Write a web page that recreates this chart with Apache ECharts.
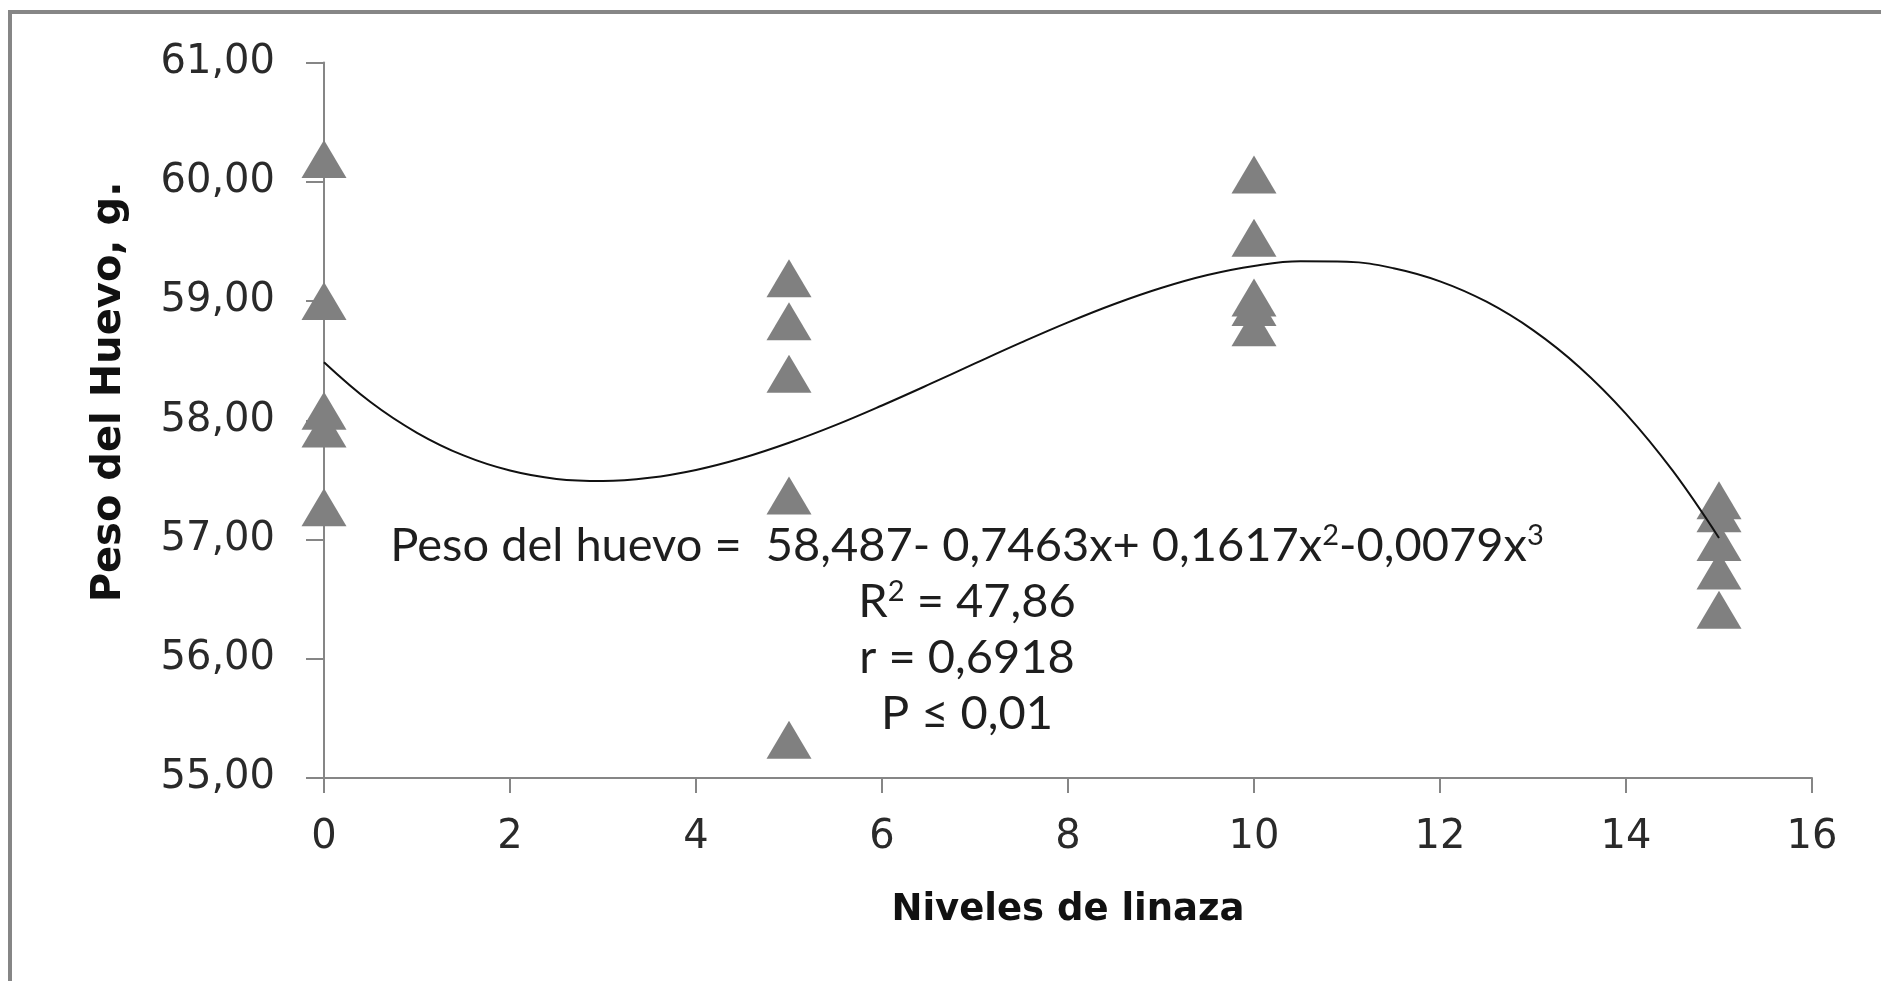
<!DOCTYPE html>
<html>
<head>
<meta charset="utf-8">
<title>Peso del Huevo vs Niveles de linaza</title>
<script src="https://cdn.jsdelivr.net/npm/echarts@6/dist/echarts.min.js"></script>
<style>
  html, body { margin: 0; padding: 0; background: #ffffff; }
  #chart { width: 1881px; height: 981px; }
</style>
</head>
<body>
<div id="chart"></div>
<script>
// Flaxseed levels (%) and the egg weights (g) measured at each level
const levels = [0, 5, 10, 15];
const pesoNivel0 = [60.19, 59.00, 58.08, 57.93, 57.27];
const pesoNivel5 = [59.19, 58.83, 58.39, 57.37, 55.32];
const pesoNivel10 = [60.06, 59.53, 59.03, 58.95, 58.78];
const pesoNivel15 = [57.33, 57.22, 56.98, 56.74, 56.41];

// Cubic trend line, sampled every 0.5 along the x axis
const trendX = [0, 0.5, 1, 1.5, 2, 2.5, 3, 3.5, 4, 4.5, 5, 5.5, 6, 6.5, 7, 7.5,
  8, 8.5, 9, 9.5, 10, 10.5, 11, 11.5, 12, 12.5, 13, 13.5, 14, 14.5, 15];
const trendY = [58.487, 58.153, 57.895, 57.705, 57.578, 57.508, 57.490, 57.517,
  57.583, 57.683, 57.811, 57.959, 58.124, 58.298, 58.477, 58.653, 58.821, 58.975,
  59.109, 59.218, 59.294, 59.333, 59.329, 59.275, 59.165, 58.994, 58.756, 58.445,
  58.054, 57.579, 57.013];

// Axis ranges and titles
const xRange = [0, 16, 2];
const yRange = [55, 61, 1];
const xTitle = 'Niveles de linaza';
const yTitle = 'Peso del Huevo, g.';

// Regression annotation (rich-text markup: {s|..} is a superscript)
const equationLines = [
  'Peso del huevo =  58,487- 0,7463x+ 0,1617x{s|2}-0,0079x{s|3}',
  'R{s|2} = 47,86',
  'r = 0,6918',
  'P ≤ 0,01'
];

const pesoSets = [pesoNivel0, pesoNivel5, pesoNivel10, pesoNivel15];
const scatterData = [];
levels.forEach((lv, i) => pesoSets[i].forEach(v => scatterData.push([lv, v])));
const trendData = trendX.map((x, i) => [x, trendY[i]]);

const axisGray = '#868686';
const textDark = '#2a2a2a';
const tickFont = { fontFamily: 'DejaVu Sans', fontSize: 40, color: textDark };

const chart = echarts.init(document.getElementById('chart'), null, { renderer: 'canvas' });

const eqCenterX = 967;
const eqTopY = 546;
const eqStep = 56;

chart.setOption({
  backgroundColor: '#ffffff',
  animation: false,
  grid: { left: 324, right: 69, top: 62.5, bottom: 203, containLabel: false },
  xAxis: {
    type: 'value',
    min: xRange[0], max: xRange[1], interval: xRange[2],
    axisLine: { show: true, onZero: false, lineStyle: { color: axisGray, width: 2 } },
    axisTick: { show: true, inside: false, length: 15, lineStyle: { color: axisGray, width: 2 } },
    splitLine: { show: false },
    axisLabel: Object.assign({ margin: 40 }, tickFont)
  },
  yAxis: {
    type: 'value',
    min: yRange[0], max: yRange[1], interval: yRange[2],
    axisLine: { show: true, onZero: false, lineStyle: { color: axisGray, width: 2 } },
    axisTick: { show: true, inside: false, length: 18, lineStyle: { color: axisGray, width: 2 } },
    splitLine: { show: false },
    axisLabel: Object.assign({
      margin: 49,
      formatter: v => v.toFixed(2).replace('.', ',')
    }, tickFont)
  },
  series: [
    {
      type: 'scatter',
      data: scatterData,
      symbol: 'triangle',
      symbolSize: [45, 38],
      itemStyle: { color: '#808080', opacity: 1 },
      z: 3
    },
    {
      type: 'line',
      data: trendData,
      smooth: 0.4,
      showSymbol: false,
      symbol: 'none',
      lineStyle: { color: '#111111', width: 2 },
      z: 4
    }
  ],
  graphic: [
    {
      type: 'rect',
      shape: { x: 10, y: 12, width: 2000, height: 1100 },
      style: { fill: 'none', stroke: axisGray, lineWidth: 4 },
      silent: true,
      z: 0
    },
    {
      type: 'text',
      x: 110, y: 392,
      rotation: Math.PI / 2,
      style: {
        text: yTitle,
        font: 'bold 40px "DejaVu Sans"',
        fill: '#111111',
        textAlign: 'center',
        textVerticalAlign: 'middle'
      },
      z: 10
    },
    {
      type: 'text',
      x: 1068, y: 910,
      style: {
        text: xTitle,
        font: 'bold 37px "DejaVu Sans"',
        fill: '#111111',
        textAlign: 'center',
        textVerticalAlign: 'middle'
      },
      z: 10
    }
  ].concat(equationLines.map((t, i) => ({
    type: 'text',
    x: eqCenterX,
    y: eqTopY + i * eqStep,
    style: {
      text: t,
      fontFamily: 'Lato',
      fontSize: 47,
      fill: '#1e1e1e',
      textAlign: 'center',
      textVerticalAlign: 'middle',
      rich: {
        s: {
          fontFamily: 'Lato',
          fontSize: 29,
          fill: '#1e1e1e',
          verticalAlign: 'top',
          lineHeight: 50
        }
      }
    },
    z: 10
  })))
});
</script>
</body>
</html>
